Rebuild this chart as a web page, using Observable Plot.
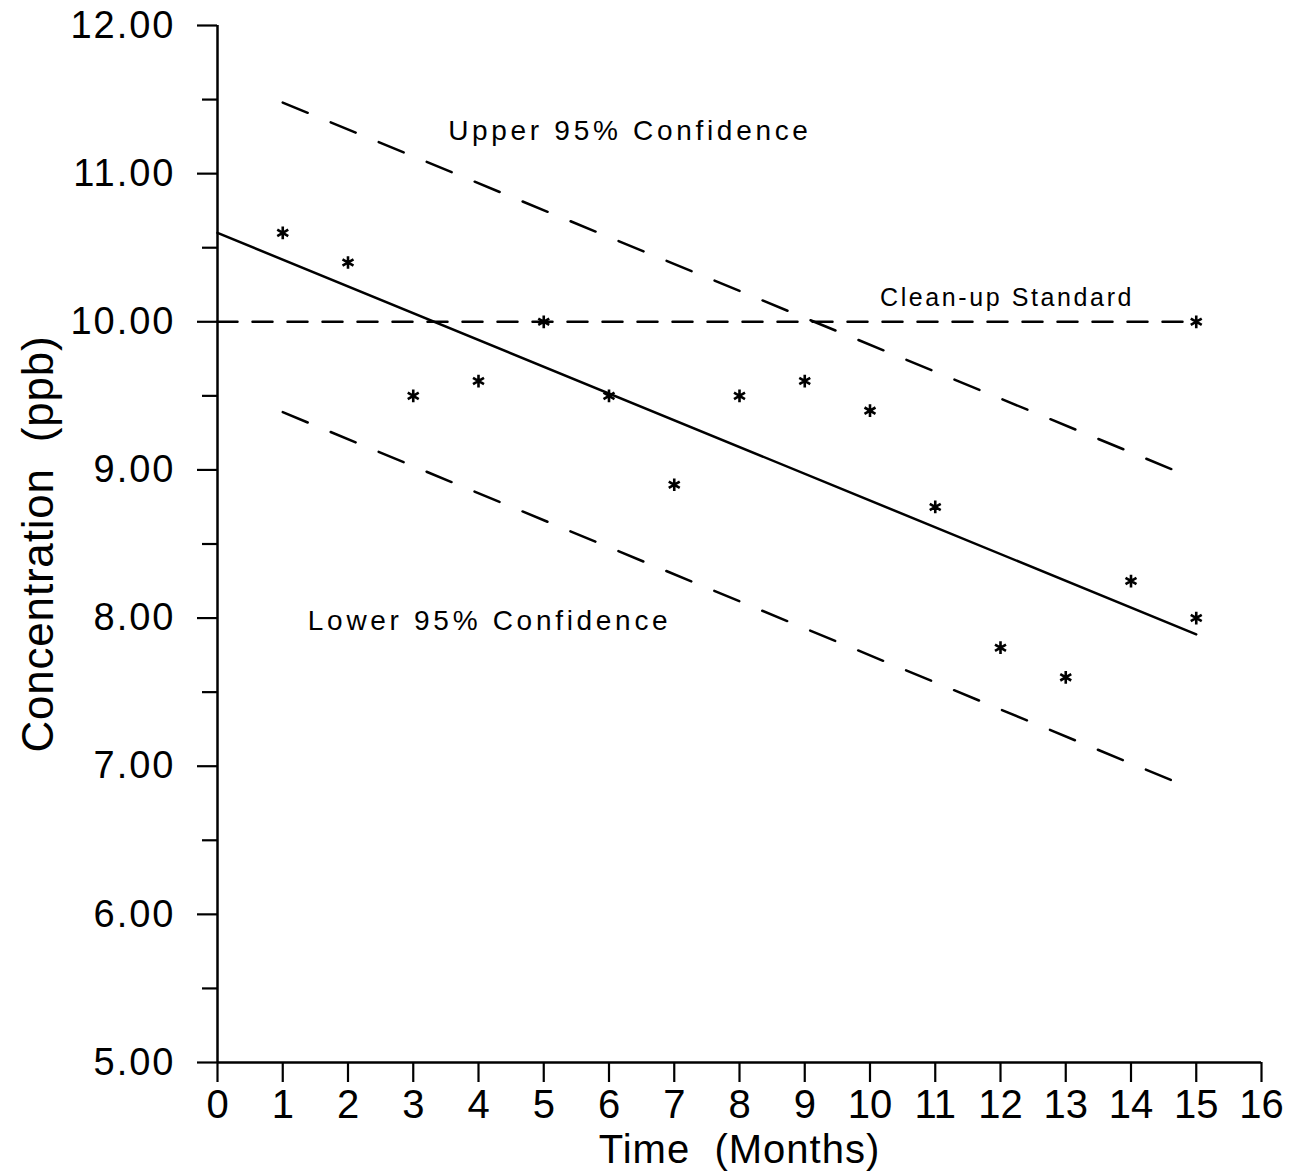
<!DOCTYPE html>
<html>
<head>
<meta charset="utf-8">
<script src="https://cdn.jsdelivr.net/npm/d3@7"></script>
<script src="https://cdn.jsdelivr.net/npm/@observablehq/plot@0.6"></script>
<style>
  html, body { margin: 0; padding: 0; background: #fff; }
  #chart svg { display: block; }
  g[aria-label="y-axis tick label"] text { letter-spacing: 2px; }
  g[aria-description="annot-big"] text { letter-spacing: 3.7px; }
  g[aria-description="annot-small"] text { letter-spacing: 2.6px; }
  g[aria-description="xtitle"] text { letter-spacing: 1px; }
  g[aria-description="ytitle"] text { letter-spacing: 0.8px; }
</style>
</head>
<body>
<div id="chart"></div>
<script>
// Observed concentrations (asterisks)
const obsMonths = [1, 2, 3, 4, 5, 6, 7, 8, 9, 10, 11, 12, 13, 14, 15, 15];
const obsConc   = [10.6, 10.4, 9.5, 9.6, 10.0, 9.5, 8.9, 9.5, 9.6, 9.4, 8.75, 7.8, 7.6, 8.25, 8.0, 10.0];

// Fitted regression line
const regMonths = [0, 15];
const regConc   = [10.6, 7.89];

// Upper / lower 95% confidence lines
const ciMonths  = [1, 14.65];
const upperConc = [11.48, 9.0];
const lowerConc = [9.39, 6.9];

// Clean-up standard
const stdMonths = [0, 15];
const stdConc   = [10.0, 10.0];

// Axis ticks
const xTicks = [0, 1, 2, 3, 4, 5, 6, 7, 8, 9, 10, 11, 12, 13, 14, 15, 16];
const yTicks = [5, 6, 7, 8, 9, 10, 11, 12];
const yMinorTicks = [5.5, 6.5, 7.5, 8.5, 9.5, 10.5, 11.5];

// Annotation labels
const bigLabels = ["Upper 95% Confidence", "Lower 95% Confidence"];
const bigLabelMonths = [6.32, 4.17];
const bigLabelConc = [11.29, 7.98];
const stdLabel = ["Clean-up Standard"];
const stdLabelMonths = [12.1];
const stdLabelConc = [10.16];

const xTitle = "Time  (Months)";
const yTitle = "Concentration  (ppb)";

const pts = obsMonths.map((m, i) => ({month: m, conc: obsConc[i]}));
const reg = regMonths.map((m, i) => ({month: m, conc: regConc[i]}));
const upper = ciMonths.map((m, i) => ({month: m, conc: upperConc[i]}));
const lower = ciMonths.map((m, i) => ({month: m, conc: lowerConc[i]}));
const std = stdMonths.map((m, i) => ({month: m, conc: stdConc[i]}));
const big = bigLabels.map((t, i) => ({text: t, month: bigLabelMonths[i], conc: bigLabelConc[i]}));
const small = stdLabel.map((t, i) => ({text: t, month: stdLabelMonths[i], conc: stdLabelConc[i]}));

const font = "'Liberation Sans', Arial, Helvetica, sans-serif";

const chart = Plot.plot({
  width: 1296,
  height: 1171,
  marginLeft: 217,
  marginRight: 35,
  marginTop: 25,
  marginBottom: 109,
  style: {fontFamily: font, color: "black", background: "white", overflow: "visible"},
  x: {domain: [0, 16]},
  y: {domain: [5, 12]},
  marks: [
    Plot.axisX({ticks: xTicks, tickSize: 20, tickPadding: 7, fontSize: 40, label: null, strokeWidth: 2.2, tickFormat: d => String(d)}),
    Plot.axisY({ticks: yTicks, tickSize: 20, tickPadding: 22, fontSize: 38, label: null, strokeWidth: 2.2, tickFormat: d3.format(".2f")}),
    Plot.axisY({ticks: yMinorTicks, tickSize: 15, label: null, strokeWidth: 2.2, tickFormat: () => ""}),
    Plot.ruleX([0], {y1: 5, y2: 12, stroke: "black", strokeWidth: 2.5}),
    Plot.ruleY([5], {x1: 0, x2: 16, stroke: "black", strokeWidth: 2.5}),
    Plot.line(std, {x: "month", y: "conc", stroke: "black", strokeWidth: 2.5, strokeDasharray: "20,15"}),
    Plot.line(upper, {x: "month", y: "conc", stroke: "black", strokeWidth: 2.5, strokeDasharray: "27,24.9"}),
    Plot.line(lower, {x: "month", y: "conc", stroke: "black", strokeWidth: 2.5, strokeDasharray: "27,24.9"}),
    Plot.line(reg, {x: "month", y: "conc", stroke: "black", strokeWidth: 2.5}),
    Plot.dot(pts, {x: "month", y: "conc", symbol: "asterisk", r: 6, stroke: "black", strokeWidth: 2.6}),
    Plot.text(big, {x: "month", y: "conc", text: "text", fontSize: 28, fill: "black", ariaDescription: "annot-big"}),
    Plot.text(small, {x: "month", y: "conc", text: "text", fontSize: 25, fill: "black", ariaDescription: "annot-small"}),
    Plot.text([xTitle], {frameAnchor: "bottom", dy: 100, fontSize: 40, fill: "black", ariaDescription: "xtitle"}),
    Plot.text([yTitle], {frameAnchor: "left", textAnchor: "middle", dx: -179, rotate: -90, fontSize: 44, fill: "black", ariaDescription: "ytitle"})
  ]
});

document.getElementById("chart").appendChild(chart);
</script>
</body>
</html>
